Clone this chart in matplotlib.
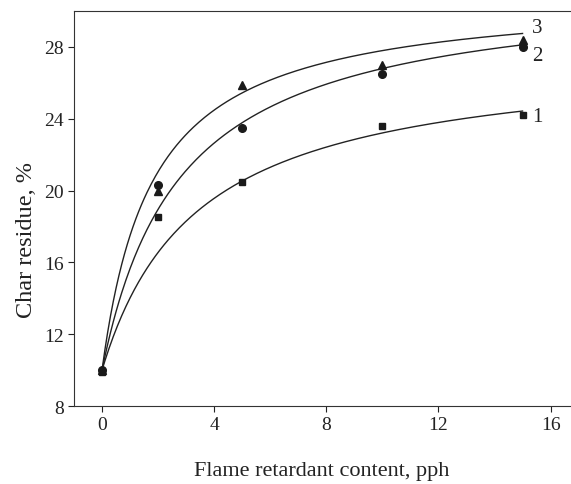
import numpy as np
import matplotlib
matplotlib.use("Agg")
import matplotlib.pyplot as plt

plt.rcParams['font.family'] = ['Liberation Serif', 'DejaVu Serif']

content = [0, 2, 5, 10, 15]
char_1 = [9.9, 18.5, 20.5, 23.6, 24.2]
char_2 = [10.0, 20.3, 23.5, 26.5, 28.0]
char_3 = [10.0, 20.0, 25.9, 27.0, 28.4]

# trend curves y = y0 + A*x/(K+x), parameters
fit_y0 = [10.0, 10.0, 10.0]
fit_A = [17.7, 21.5, 21.0]
fit_K = [3.4, 2.8, 1.8]

curve_labels = ["1", "2", "3"]
label_y = [24.1, 27.5, 29.1]

fig = plt.figure(figsize=(5.71, 4.85), dpi=100)
ax = fig.add_axes([0.1296, 0.1608, 0.869, 0.8144])

xs = np.linspace(0, max(content), 300)
series = [(char_1, 's', 5), (char_2, 'o', 5.5), (char_3, '^', 6)]
for i, (ys, mk, ms) in enumerate(series):
    fit = fit_y0[i] + fit_A[i] * xs / (fit_K[i] + xs)
    ax.plot(xs, fit, color='#222222', lw=1.0)
    ax.plot(content, ys, ls='none', marker=mk, ms=ms, color='#1a1a1a')

for lab, yy in zip(curve_labels, label_y):
    ax.text(15.35, yy, lab, fontsize=15, va='center', ha='left', color='#222222')

ax.set_xlim(-1, 16.7)
ax.set_ylim(8, 30)
ax.set_xticks([0, 4, 8, 12, 16])
ax.set_yticks([8, 12, 16, 20, 24, 28])
ax.tick_params(direction='out', length=4, labelsize=14, colors='#222222')
ax.spines['right'].set_visible(False)
for s in ['left', 'bottom', 'top']:
    ax.spines[s].set_color('#333333')

ax.set_xlabel("Flame retardant content, pph", fontsize=16, labelpad=20, color='#222222')
ax.set_ylabel("Char residue, %", fontsize=17.5, color='#222222')
ax.yaxis.set_label_coords(-0.075, 0.423)

fig.savefig("out.png", dpi=100)
